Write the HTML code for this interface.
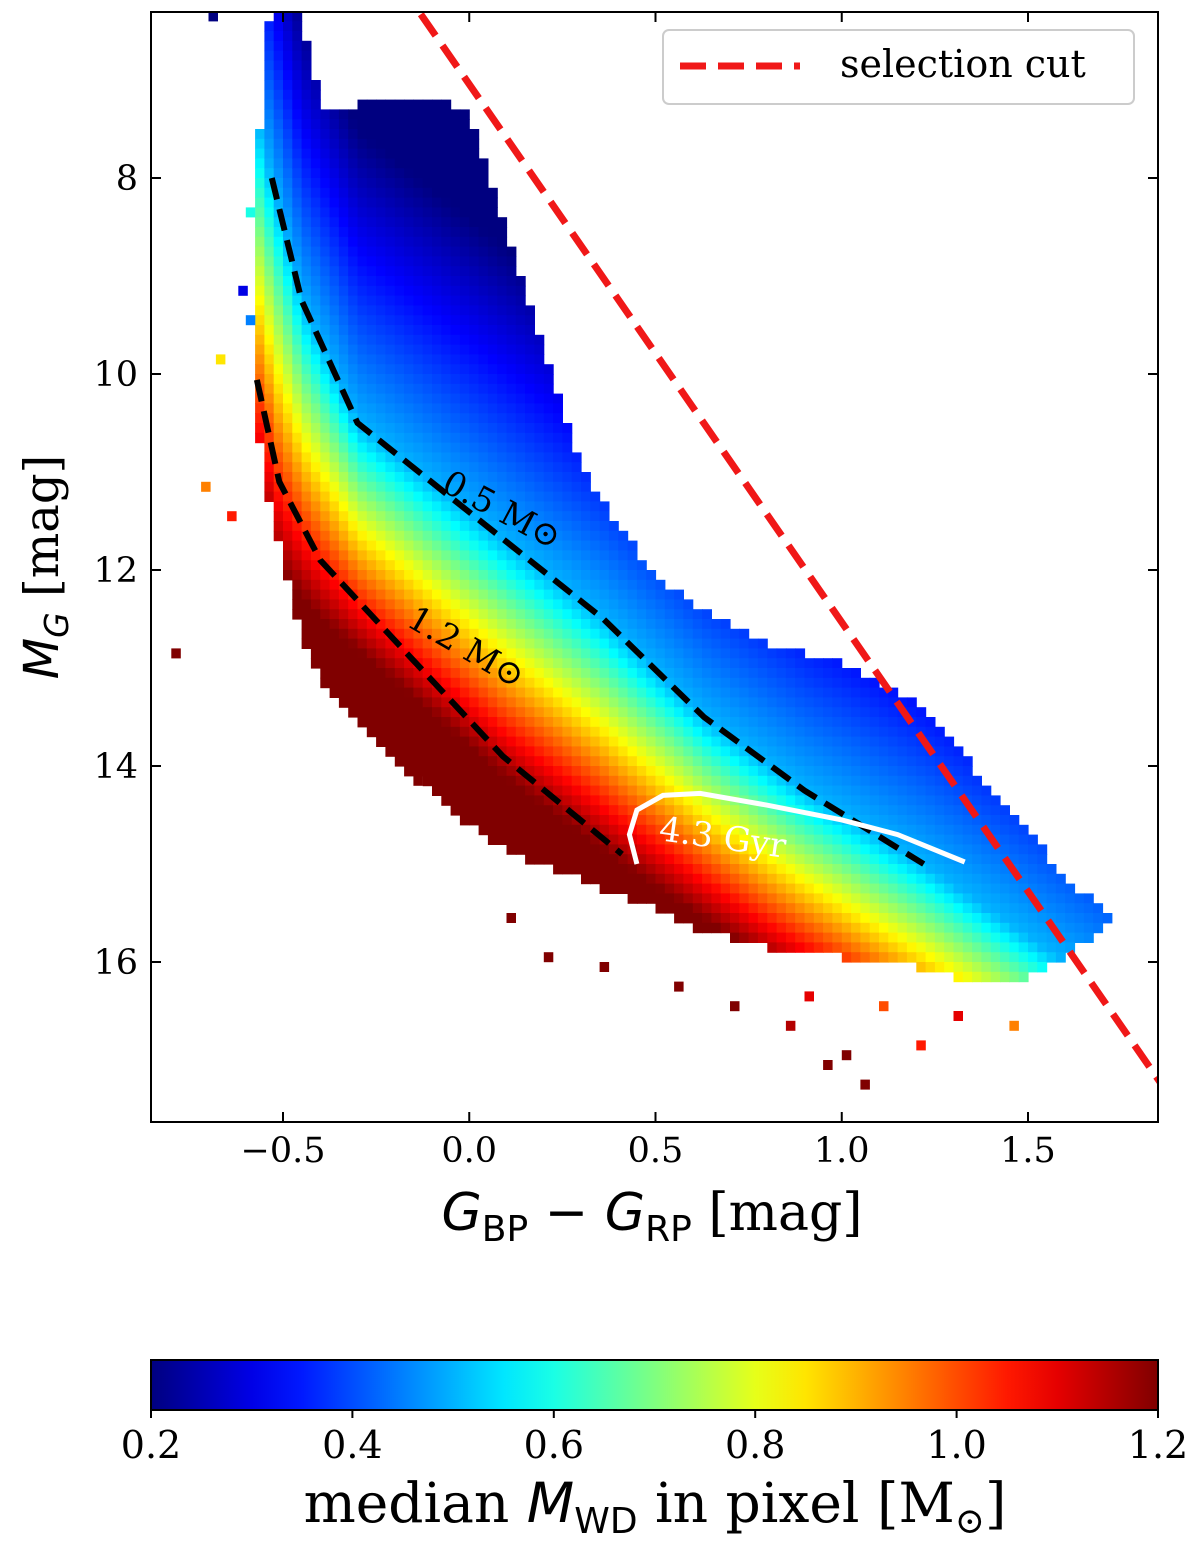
<!DOCTYPE html>
<html><head><meta charset="utf-8"><style>
html,body{margin:0;padding:0;background:#fff;}
svg text{font-family:"DejaVu Serif","Liberation Serif",serif;}
.m{font-family:"DejaVu Sans","Liberation Sans",sans-serif;font-style:italic;}
.ms{font-family:"DejaVu Sans","Liberation Sans",sans-serif;}
</style></head><body>
<svg id="chart" width="1200" height="1554" viewBox="0 0 1200 1554" xmlns="http://www.w3.org/2000/svg">
<defs>
<clipPath id="plotclip"><rect x="151" y="12" width="1007" height="1110"/></clipPath>
<linearGradient id="jetgrad" x1="0" x2="1" y1="0" y2="0"></linearGradient>
</defs>
<g id="cells" clip-path="url(#plotclip)"></g>
<g id="overlays" clip-path="url(#plotclip)"></g>
<rect x="151" y="12" width="1007" height="1110" fill="none" stroke="#000" stroke-width="2"/>
<g id="axes"></g>
<text x="652" y="1230" font-size="52" text-anchor="middle"><tspan class="m">G</tspan><tspan class="ms" font-size="36" dy="11">BP</tspan><tspan class="ms" dy="-11"> − </tspan><tspan class="m">G</tspan><tspan class="ms" font-size="36" dy="11">RP</tspan><tspan dy="-11"> [mag]</tspan></text>
<text transform="translate(58,567) rotate(-90)" font-size="48" text-anchor="middle"><tspan class="m">M</tspan><tspan class="m" font-size="33" dy="10">G</tspan><tspan dy="-10"> [mag]</tspan></text>
<g>
<rect x="663" y="30" width="471" height="74" rx="6" fill="#fff" stroke="#ccc" stroke-width="2"/>
<line x1="680" y1="66" x2="800" y2="66" stroke="#f01818" stroke-width="7" stroke-dasharray="26,12"/>
<text x="840" y="77" font-size="38">selection cut</text>
</g>
<rect x="151" y="1360" width="1007" height="50" fill="url(#jetgrad)" stroke="#000" stroke-width="2"/>
<g id="cbaxis"></g>
<text x="655" y="1522" font-size="55" text-anchor="middle">median <tspan class="m">M</tspan><tspan class="ms" font-size="36" dy="11">WD</tspan><tspan dy="-11"> in pixel [M</tspan><tspan font-size="36" dy="11">⊙</tspan><tspan dy="-11">]</tspan></text>
</svg>
<script>
// ---- data ----
const edgeColors = [-0.575,-0.55,-0.5,-0.45,-0.4,-0.3,-0.2,-0.1,0.0,0.05,0.1,0.2,0.3,0.4,0.5,0.6,0.7,0.8,0.9,1.0,1.1,1.2,1.3,1.4,1.5,1.6,1.7];
const topMag = [8.5,6.5,6.3,6.4,7.3,7.3,7.2,7.2,7.4,8.0,8.6,9.8,11.0,11.6,12.1,12.4,12.6,12.8,12.9,13.0,13.2,13.4,13.8,14.3,14.7,15.2,15.5];
const botMag = [10.2,11.0,11.9,12.6,13.1,13.5,13.9,14.2,14.55,14.7,14.8,14.96,15.1,15.27,15.4,15.6,15.7,15.8,15.85,15.9,15.95,16.0,16.1,16.2,16.1,15.9,15.6];
const track05X = [-0.53,-0.45,-0.3,0.03,0.36,0.63,0.9,1.22,1.6];
const track05Y = [8.0,9.25,10.5,11.5,12.5,13.5,14.25,15.0,16.0];
const track12X = [-0.57,-0.51,-0.4,-0.18,0.09,0.41];
const track12Y = [10.06,11.1,11.9,12.8,13.9,14.9];
const fieldHiX = [-0.57,-0.51,-0.4,-0.18,0.09,0.41,0.8,1.2,1.6];
const fieldHiY = [11.2,12.0,12.5,13.2,14.1,15.0,16.0,16.9,17.8];
const speckX = [-0.7,-0.62,-0.6,-0.68,-0.72,-0.65,-0.8,-0.6,0.2,0.35,0.55,0.7,0.85,1.0,1.05,1.2,1.3,0.95,1.45,1.85,-0.15,0.1,0.9,1.1];
const speckY = [6.3,9.1,9.4,9.8,11.1,11.4,12.8,8.3,15.9,16.0,16.2,16.4,16.6,16.9,17.2,16.8,16.5,17.0,16.6,16.2,14.1,15.5,16.3,16.4];
const speckM = [0.2,0.3,0.45,0.85,0.95,1.05,1.2,0.6,1.2,1.2,1.2,1.2,1.15,1.2,1.2,1.05,1.1,1.2,0.95,0.95,1.2,1.2,1.1,1.0];
const xTicks = [-0.5,0.0,0.5,1.0,1.5];
const xTickLabels = ["−0.5","0.0","0.5","1.0","1.5"];
const yTicks = [8,10,12,14,16];
const yTickLabels = ["8","10","12","14","16"];
const cbTicks = [0.2,0.4,0.6,0.8,1.0,1.2];
const cbTickLabels = ["0.2","0.4","0.6","0.8","1.0","1.2"];
const cutX = [-0.13,1.857];
const cutY = [6.33,17.24];
const gyrX = [0.45,0.43,0.45,0.52,0.62,0.8,1.0,1.15,1.33];
const gyrY = [15.0,14.7,14.45,14.3,14.28,14.4,14.55,14.7,14.98];
// ---- scales ----
const X = v => 283 + (v + 0.5) * 372.5;
const Y = v => 178 + (v - 8) * 98;
const CB = v => 151 + (v - 0.2) * 1007;
const NS = "http://www.w3.org/2000/svg";
function interp(xs, ys, x){
  if (x <= xs[0]) return ys[0] + (x - xs[0]) * (ys[1]-ys[0])/(xs[1]-xs[0]);
  for (let i=1;i<xs.length;i++) if (x <= xs[i]) return ys[i-1] + (x-xs[i-1])*(ys[i]-ys[i-1])/(xs[i]-xs[i-1]);
  const n = xs.length; return ys[n-1] + (x-xs[n-1])*(ys[n-1]-ys[n-2])/(xs[n-1]-xs[n-2]);
}
const cl = v => Math.max(0, Math.min(1, v));
function jet(m){
  const t = cl((m - 0.2) / 1.0);
  const r = cl(1.5 - Math.abs(4*t-3)), g = cl(1.5 - Math.abs(4*t-2)), b = cl(1.5 - Math.abs(4*t-1));
  return `rgb(${Math.round(r*255)},${Math.round(g*255)},${Math.round(b*255)})`;
}
function massAt(x, y){
  const y05 = interp(track05X, track05Y, x), y12 = interp(fieldHiX, fieldHiY, x);
  if (y < y05) return Math.max(0.2, 0.5 - 0.1 * (y05 - y));
  return Math.min(1.2, 0.5 + 0.7 * (y - y05) / Math.max(0.3, y12 - y05));
}
function mk(tag, attrs, parent){ const e = document.createElementNS(NS, tag); for (const k in attrs) e.setAttribute(k, attrs[k]); parent.appendChild(e); return e; }
// ---- heatmap ----
const cells = document.getElementById('cells');
const dx = 0.025, dy = 0.1;
for (let x = edgeColors[0]; x < edgeColors[edgeColors.length-1]; x += dx) {
  const xc = x + dx/2;
  const t = interp(edgeColors, topMag, xc), b = interp(edgeColors, botMag, xc);
  for (let y = Math.floor(t/dy)*dy; y < b; y += dy) {
    const r = mk('rect', {x: X(x).toFixed(1), y: Y(y).toFixed(1), width: (dx*372.5+0.6).toFixed(1), height: (dy*98+0.6).toFixed(1), fill: jet(massAt(xc, y+dy/2))}, cells);
    
    
  }
}
for (let i=0;i<speckX.length;i++){
  const r = mk('rect', {x: X(speckX[i]).toFixed(1), y: Y(speckY[i]).toFixed(1), width: 9.5, height: 10, fill: jet(speckM[i])}, cells);
  
  
}
// ---- overlays ----
const ov = document.getElementById('overlays');
function poly(xs, ys, attrs, name){
  const pts = xs.map((v,i)=>X(v).toFixed(1)+','+Y(ys[i]).toFixed(1)).join(' ');
  const p = mk('polyline', Object.assign({points: pts, fill:'none'}, attrs), ov);
  
  
}
poly(track05X.slice(0,8), track05Y.slice(0,8), {stroke:'#000','stroke-width':6,'stroke-dasharray':'22,10'}, 'track-0.5-msun');
poly(track12X, track12Y, {stroke:'#000','stroke-width':6,'stroke-dasharray':'22,10'}, 'track-1.2-msun');
poly(gyrX, gyrY, {stroke:'#fff','stroke-width':5}, 'isochrone-4.3-gyr');
poly(cutX, cutY, {stroke:'#f01818','stroke-width':7,'stroke-dasharray':'26,12'}, 'selection-cut-line');
function lbl(x,y,rot,txt,col,name,size){
  const t = mk('text', {x:x,y:y,'font-size':size,fill:col,transform:`rotate(${rot},${x},${y})`}, ov);
  t.textContent = txt;
  
  
}
lbl(440,490,28,'0.5 M⊙','#000','label-0.5-msun',34);
lbl(405,625,30,'1.2 M⊙','#000','label-1.2-msun',34);
lbl(658,840,8,'4.3 Gyr','#fff','label-4.3-gyr',34);
// ---- axes ----
const ax = document.getElementById('axes');
xTicks.forEach((v,i)=>{
  const px = X(v);
  let l = mk('line',{x1:px,y1:1122,x2:px,y2:1112,stroke:'#000','stroke-width':2},ax);
   
  l = mk('line',{x1:px,y1:12,x2:px,y2:22,stroke:'#000','stroke-width':2},ax);
   
  const t = mk('text',{x:px,y:1162,'font-size':35,'text-anchor':'middle'},ax);
  t.textContent = xTickLabels[i];
   
});
yTicks.forEach((v,i)=>{
  const py = Y(v);
  let l = mk('line',{x1:151,y1:py,x2:161,y2:py,stroke:'#000','stroke-width':2},ax);
   
  l = mk('line',{x1:1158,y1:py,x2:1148,y2:py,stroke:'#000','stroke-width':2},ax);
   
  const t = mk('text',{x:138,y:py+12,'font-size':35,'text-anchor':'end'},ax);
  t.textContent = yTickLabels[i];
   
});
// ---- colorbar ----
const grad = document.getElementById('jetgrad');
for (let i=0;i<=20;i++){ mk('stop',{offset:(i/20).toFixed(2),'stop-color':jet(0.2+i/20)},grad); }
const cba = document.getElementById('cbaxis');
cbTicks.forEach((v,i)=>{
  const px = CB(v);
  const l = mk('line',{x1:px,y1:1410,x2:px,y2:1418,stroke:'#000','stroke-width':2},cba);
   
  const t = mk('text',{x:px,y:1458,'font-size':38,'text-anchor':'middle'},cba);
  t.textContent = cbTickLabels[i];
   
});
</script>
</body></html>
